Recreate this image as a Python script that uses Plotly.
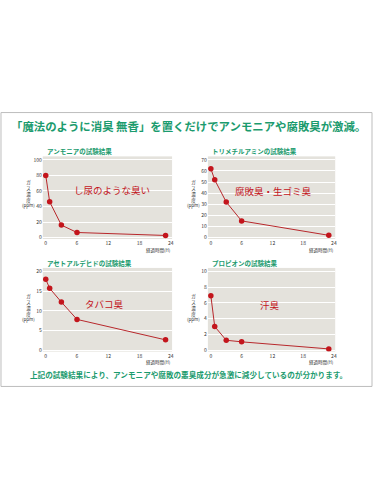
import plotly.graph_objects as go

# ---- data ----
hours = [0, 0.75, 3, 6, 23]
ammonia = [80, 46, 16, 6.5, 2.7]
trimethylamine = [62, 52, 32, 15, 2]
acetaldehyde = [18, 15.7, 12.2, 7.8, 2.6]
propionic = [6.9, 3.0, 1.25, 1.05, 0.15]

panel_titles = ["アンモニアの試験結果", "トリメチルアミンの試験結果",
                "アセトアルデヒドの試験結果", "プロピオンの試験結果"]
odor_labels = ["し尿のような臭い", "腐敗臭・生ゴミ臭", "タバコ臭", "汗臭"]
y_ticks = [[0, 20, 40, 60, 80, 100], [0, 10, 20, 30, 40, 50, 60, 70],
           [0, 5, 10, 15, 20], [0, 2, 4, 6, 8, 10]]
x_ticks = [0, 6, 12, 18, 24]
series = [ammonia, trimethylamine, acetaldehyde, propionic]

W, H = 375, 500
GREEN = "#1b9b6e"
RED = "#c3151c"
LINE = "#b8282c"
BG = "#e4e2dc"
FONT = "Noto Sans CJK JP"


def px(x, y):
    return x / W, 1 - y / H


# plot area boxes in pixels (x0, x1, y0, y1)
boxes = [(43, 173, 156, 239), (209, 337, 156, 239),
         (43, 173, 268, 352), (209, 337, 268, 352)]

fig = go.Figure()
layout = dict(
    width=W, height=H, margin=dict(l=0, r=0, t=0, b=0),
    paper_bgcolor="white", plot_bgcolor=BG, showlegend=False,
    font=dict(family=FONT, color="#333"),
)

annotations = []
for i, (box, ys, yt) in enumerate(zip(boxes, series, y_ticks)):
    n = "" if i == 0 else str(i + 1)
    x0, x1, y0, y1 = box
    ymax = yt[-1]
    hpx = y1 - y0
    scale = (hpx - 5) / ymax
    yr = [-1.5 / scale, ymax + 3.5 / scale]
    wpx = x1 - x0
    xs = (wpx - 4.3) / 24
    xr = [-3 / xs, 24 + 1.3 / xs]
    layout["xaxis" + n] = dict(
        domain=[x0 / W, x1 / W], anchor="y" + n, range=xr,
        tickvals=x_ticks, showgrid=False, zeroline=False,
        tickfont=dict(size=5, color="#333"), ticks="", ticklen=0,
        fixedrange=True,
    )
    layout["yaxis" + n] = dict(
        domain=[1 - y1 / H, 1 - y0 / H], anchor="x" + n, range=yr,
        tickvals=yt, showgrid=True, gridcolor="white", gridwidth=1,
        zeroline=False, tickfont=dict(size=5, color="#333"), ticks="",
        ticklen=0, fixedrange=True,
    )
    fig.add_trace(go.Scatter(
        x=hours, y=ys, mode="lines+markers", xaxis="x" + n, yaxis="y" + n,
        line=dict(color=LINE, width=1),
        marker=dict(color=RED, size=5.5),
    ))
    # panel title
    tx, ty = px(x0 + 2, y0 - 5)
    annotations.append(dict(text=panel_titles[i], x=tx, y=ty, xref="paper",
                            yref="paper", xanchor="left", yanchor="middle",
                            showarrow=False,
                            font=dict(size=6.5, color=GREEN, family=FONT, weight="bold")))
    # y axis title
    ax, ay = px(x0 - 14, (y0 + y1) / 2 - 4 if i < 2 else y0 + 40)
    annotations.append(dict(text="ガ<br>ス<br>濃<br>度<br>(ppm)", x=ax, y=ay,
                            xref="paper", yref="paper", xanchor="center",
                            yanchor="middle", showarrow=False,
                            font=dict(size=4.5, color="#333", family=FONT)))
    # x axis title
    bx, by = px(x1 + 1, y1 + 11)
    annotations.append(dict(text="経過時間(H)", x=bx, y=by, xref="paper",
                            yref="paper", xanchor="right", yanchor="middle",
                            showarrow=False,
                            font=dict(size=4.5, color="#333", family=FONT)))

# odor labels
label_pos = [(113, 190), (275, 190.5), (105, 304), (271, 305)]
for text, (lx, ly) in zip(odor_labels, label_pos):
    x, y = px(lx, ly)
    annotations.append(dict(text=text, x=x, y=y, xref="paper", yref="paper",
                            xanchor="center", yanchor="middle", showarrow=False,
                            font=dict(size=9.5, color=RED, family=FONT)))

# headline and footer
hx, hy = px(190, 126)
annotations.append(dict(text="「魔法のように消臭 無香」を置くだけでアンモニアや腐敗臭が激減。",
                        x=hx, y=hy, xref="paper", yref="paper",
                        xanchor="center", yanchor="middle", showarrow=False,
                        font=dict(size=11.4, color=GREEN, family=FONT, weight="bold")))
fx, fy = px(190, 375)
annotations.append(dict(text="上記の試験結果により、アンモニアや腐敗の悪臭成分が急激に減少しているのが分かります。",
                        x=fx, y=fy, xref="paper", yref="paper",
                        xanchor="center", yanchor="middle", showarrow=False,
                        font=dict(size=7.6, color=GREEN, family=FONT, weight="bold")))

bx0, by1 = px(1, 112)
bx1, by0 = px(374, 387)
layout["shapes"] = [dict(type="rect", xref="paper", yref="paper",
                         x0=bx0, x1=bx1, y0=by0, y1=by1,
                         line=dict(color="#bdbdbd", width=1), layer="below")]
layout["annotations"] = annotations
fig.update_layout(**layout)
fig.write_html("out.html", config={"displayModeBar": False})
